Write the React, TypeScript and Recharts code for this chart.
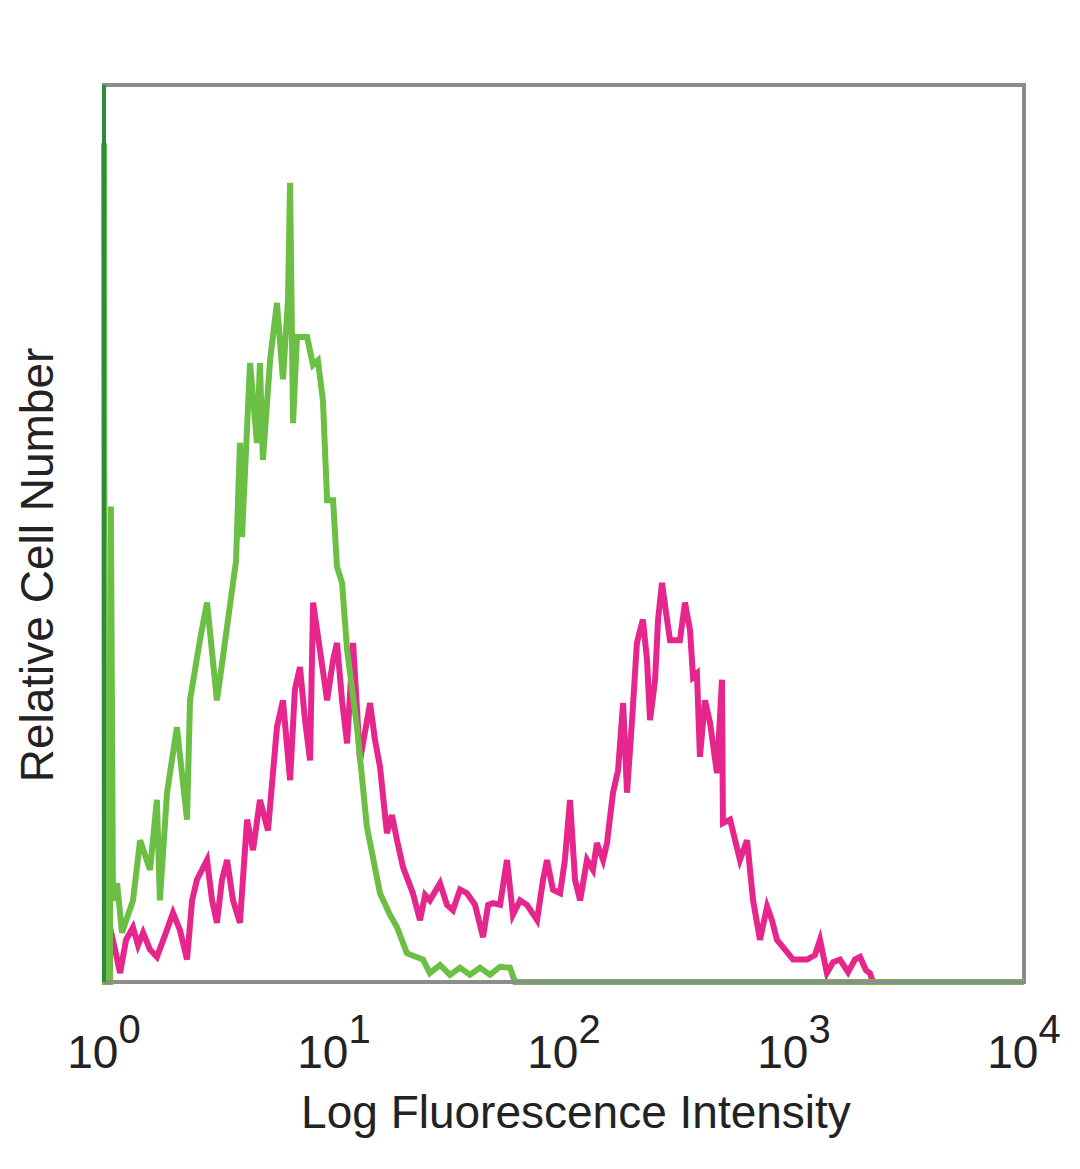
import { LineChart, Line, XAxis, YAxis, ReferenceArea } from 'recharts';

// x = log10 of fluorescence intensity, y = relative cell number (0-100)
const greenX = [0, 0.004, 0.026, 0.03, 0.039, 0.057, 0.078, 0.126, 0.157, 0.2, 0.23, 0.243, 0.274, 0.317, 0.361, 0.374, 0.417, 0.448, 0.491, 0.517, 0.561, 0.574, 0.591, 0.6, 0.635, 0.665, 0.678, 0.691, 0.722, 0.752, 0.778, 0.8, 0.809, 0.822, 0.839, 0.883, 0.909, 0.93, 0.952, 0.97, 0.996, 1.013, 1.035, 1.057, 1.1, 1.143, 1.2, 1.243, 1.274, 1.317, 1.387, 1.417, 1.461, 1.504, 1.548, 1.591, 1.635, 1.678, 1.722, 1.765, 1.787, 4];
const greenY = [93.5, 0, 0, 53, 9.1, 11, 5.5, 9.1, 15.8, 12.5, 20.3, 9.1, 21.1, 28.4, 18.1, 31.4, 38.1, 42.3, 31.4, 36.2, 44.5, 46.9, 60.1, 49.6, 69, 60.1, 69, 58.2, 69.3, 75.7, 67.2, 76, 89.1, 62.3, 71.9, 71.9, 68.8, 69.3, 64.8, 53.7, 53.7, 46.3, 44.5, 37, 28.4, 17.3, 9.9, 7.5, 6.1, 3.2, 2.5, 1, 1.9, 0.8, 1.6, 0.8, 1.6, 0.8, 1.7, 1.6, 0, 0];

const magentaX = [0.013, 0.026, 0.048, 0.07, 0.096, 0.126, 0.148, 0.17, 0.2, 0.23, 0.265, 0.3, 0.33, 0.361, 0.383, 0.404, 0.448, 0.47, 0.491, 0.513, 0.535, 0.561, 0.591, 0.622, 0.648, 0.678, 0.713, 0.752, 0.778, 0.809, 0.83, 0.852, 0.874, 0.896, 0.909, 0.939, 0.97, 0.996, 1.013, 1.035, 1.057, 1.083, 1.113, 1.157, 1.178, 1.2, 1.23, 1.252, 1.274, 1.3, 1.343, 1.374, 1.396, 1.417, 1.461, 1.491, 1.517, 1.548, 1.578, 1.613, 1.648, 1.67, 1.691, 1.722, 1.752, 1.778, 1.809, 1.839, 1.883, 1.909, 1.926, 1.952, 1.983, 2.004, 2.026, 2.048, 2.07, 2.1, 2.126, 2.143, 2.17, 2.187, 2.213, 2.235, 2.257, 2.274, 2.296, 2.317, 2.343, 2.361, 2.374, 2.396, 2.409, 2.426, 2.448, 2.461, 2.504, 2.526, 2.548, 2.561, 2.578, 2.591, 2.613, 2.635, 2.665, 2.687, 2.691, 2.722, 2.765, 2.796, 2.822, 2.852, 2.883, 2.904, 2.926, 2.961, 2.996, 3.057, 3.091, 3.113, 3.143, 3.17, 3.2, 3.235, 3.265, 3.287, 3.313, 3.33, 3.343];
const magentaY = [2.5, 6.1, 3.6, 1, 4.7, 6.1, 4.1, 5.5, 3.6, 2.8, 5.2, 7.7, 5.8, 2.5, 9.1, 11.4, 13.6, 9.1, 6.6, 11.4, 13.6, 9.1, 6.6, 18.1, 14.7, 20.3, 16.9, 28.4, 31.4, 22.5, 32.6, 35.1, 29.2, 24.7, 42.3, 37, 31.4, 35.9, 37.8, 31.4, 26.6, 37.8, 24.7, 31.1, 27, 24, 16.6, 18.6, 15.8, 12.8, 9.9, 6.9, 9.7, 9.1, 11, 8.6, 8, 10.3, 9.9, 8.6, 5, 8.6, 8.8, 8.6, 13.6, 7.5, 9.1, 8.6, 6.9, 11.4, 13.6, 10.3, 9.9, 13.6, 20.3, 11.4, 9.1, 13.6, 12.5, 15.5, 13.6, 15.5, 21.1, 23.6, 31.1, 21.1, 29.2, 37.8, 40.4, 35.9, 29.2, 33.7, 40.4, 44.5, 40.4, 38.1, 38.1, 42.3, 39.2, 34, 34.4, 25.1, 31.4, 28.9, 23.3, 33.7, 17.7, 18.1, 13.6, 15.8, 9.1, 4.7, 8.4, 6.9, 4.7, 3.6, 2.5, 2.5, 3, 4.7, 1, 2.2, 2.5, 1.1, 2.5, 2.8, 1.3, 1, 0];

const decadeTicks = [0, 1, 2, 3, 4];

const greenData = greenX.map((x, i) => ({ x, y: greenY[i] }));
const magentaData = magentaX.map((x, i) => ({ x, y: magentaY[i] }));

const FONT = '"Liberation Sans", Arial, sans-serif';

const PowerTick = ({ x, y, payload }: any) => (
  <text x={x} y={y + 78} textAnchor="middle" fontFamily={FONT} fontSize={46} fill="#222">
    <tspan>10</tspan>
    <tspan fontSize={40} dy={-25}>{payload.value}</tspan>
  </text>
);

export default function App() {
  return (
    <LineChart width={1064} height={1150} margin={{ top: 77, right: 48, bottom: 56, left: 36 }}>
      <ReferenceArea x1={0} x2={4} y1={0} y2={100} fill="none" stroke="#8c8c8c" strokeWidth={4} />
      <XAxis
        dataKey="x"
        type="number"
        domain={[0, 4]}
        ticks={decadeTicks}
        tickLine={false}
        height={120}
        axisLine={{ stroke: '#8c8c8c', strokeWidth: 4 }}
        tick={<PowerTick />}
        label={{
          content: () => (
            <text x={568} y={1120} textAnchor="middle" fontFamily={FONT} fontSize={46} fill="#222">
              Log Fluorescence Intensity
            </text>
          ),
        }}
      />
      <YAxis
        type="number"
        domain={[0, 100]}
        tick={false}
        tickLine={false}
        width={60}
        axisLine={{ stroke: '#2e8b3c', strokeWidth: 4 }}
        label={{
          content: () => (
            <text x={45} y={557} transform="rotate(-90 45 557)" textAnchor="middle" fontFamily={FONT} fontSize={46} fill="#222">
              Relative Cell Number
            </text>
          ),
        }}
      />
      <Line data={magentaData} dataKey="y" type="linear" stroke="#e6268c" strokeWidth={6} dot={false} isAnimationActive={false} />
      <Line data={greenData} dataKey="y" type="linear" stroke="#6cbf45" strokeWidth={6} dot={false} isAnimationActive={false} />
    </LineChart>
  );
}
